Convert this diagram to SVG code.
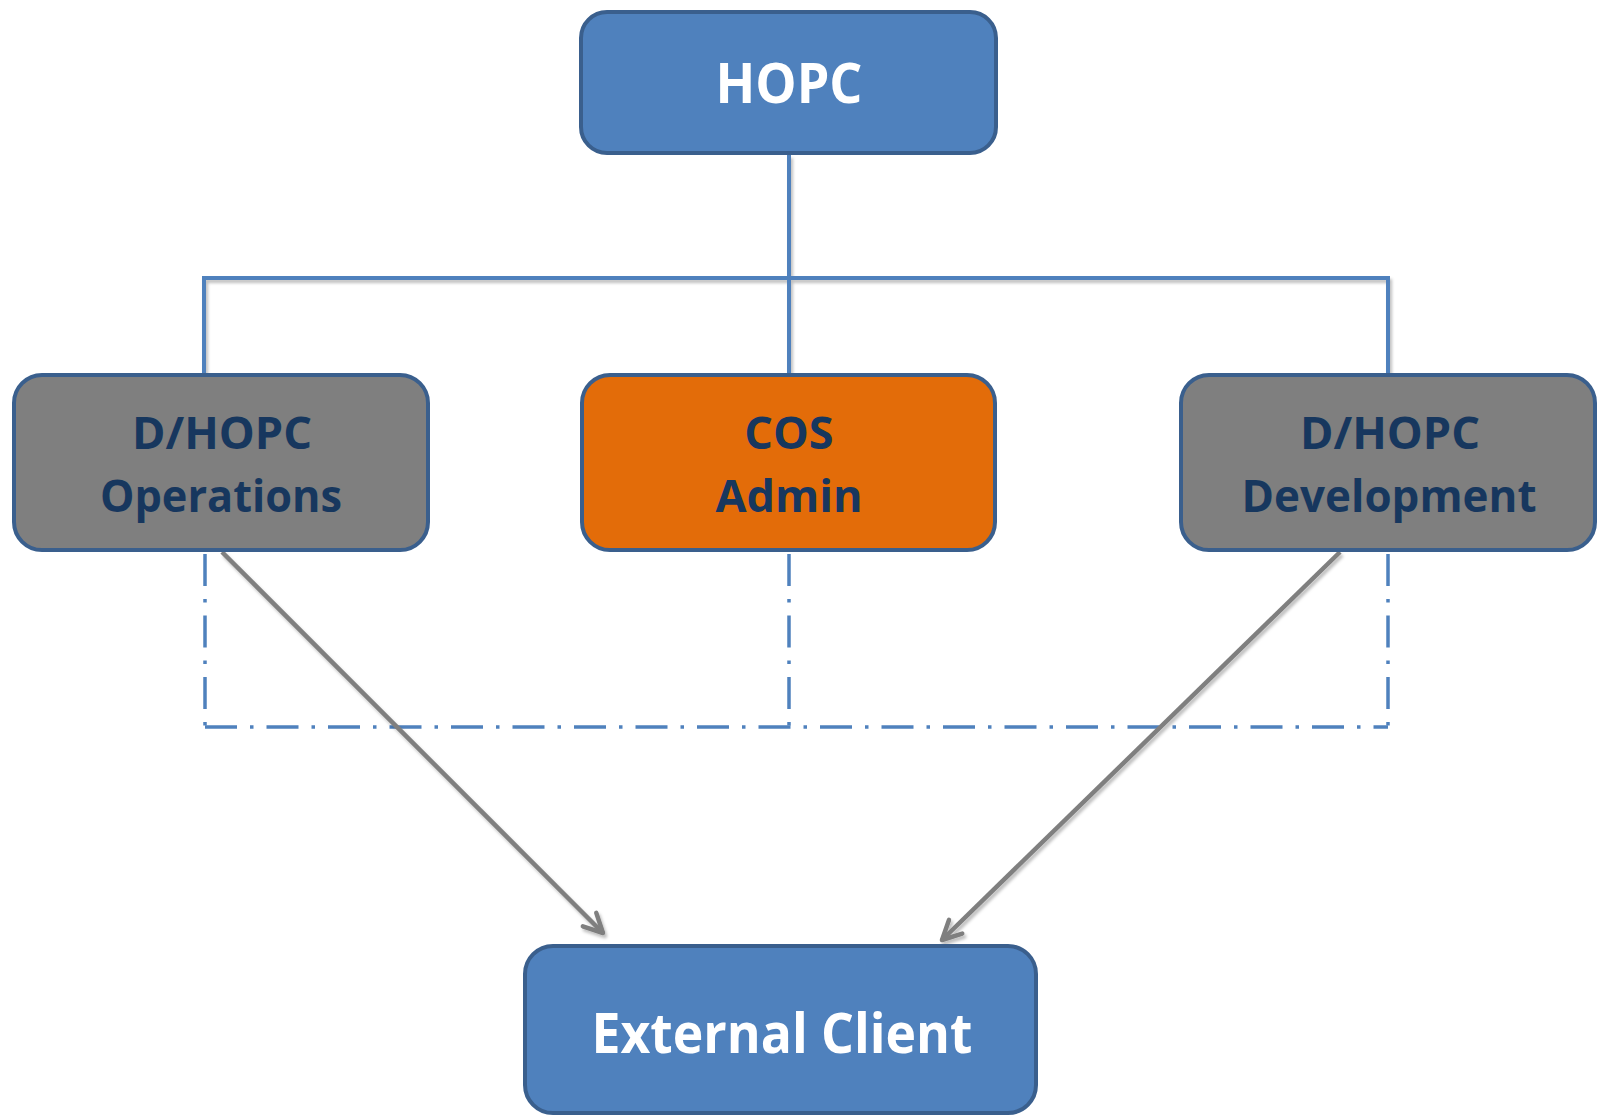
<svg xmlns="http://www.w3.org/2000/svg" width="1604" height="1119" viewBox="0 0 1604 1119">
  <style>
    .box { stroke: #3A5F8D; stroke-width: 4; }
    .blue { fill: #4F81BD; }
    .grey { fill: #7F7F7F; }
    .orange { fill: #E36C09; }
    .lbl { font-family: "Open Sans", "Liberation Sans", sans-serif; font-weight: bold; text-anchor: middle; }
    .white { fill: #FFFFFF; }
    .navy { fill: #17375E; }
    .tree { fill: none; stroke: #4F81BD; stroke-width: 4; }
    .dd { fill: none; stroke: #4F81BD; stroke-width: 3.5; stroke-dasharray: 32 13 3.5 13; }
    .flow { fill: none; stroke: #7F7F7F; stroke-width: 4.5; }
  </style>
  <defs>
    <filter id="shadow" x="-5%" y="-5%" width="110%" height="110%">
      <feDropShadow dx="2" dy="3" stdDeviation="1.5" flood-color="#000000" flood-opacity="0.25"/>
    </filter>
    <marker id="open-arrow" markerUnits="userSpaceOnUse" markerWidth="30" markerHeight="30" refX="0" refY="0" orient="auto" overflow="visible">
      <path d="M -19 -9.5 L 0 0 L -19 9.5" fill="none" stroke="#7F7F7F" stroke-width="4.5" stroke-linecap="round" stroke-linejoin="round"/>
    </marker>
  </defs>

  <!-- connectors -->
  <g id="connectors">
    <g filter="url(#shadow)">
      <path class="tree" d="M 789 155 L 789 374"/>
      <path class="tree" d="M 204 373 L 204 278 L 1388 278 L 1388 373"/>
    </g>
    <path class="dd" d="M 205 554 L 205 727"/>
    <path class="dd" d="M 789 554 L 789 727"/>
    <path class="dd" d="M 1388 554 L 1388 727"/>
    <path class="dd" d="M 205 727 L 1388 727"/>
    <g filter="url(#shadow)">
      <path class="flow" d="M 222 552 L 603 933" marker-end="url(#open-arrow)"/>
      <path class="flow" d="M 1340 552 L 942 940" marker-end="url(#open-arrow)"/>
    </g>
  </g>

  <!-- nodes -->
  <g id="hopc">
    <rect class="box blue" x="581" y="12" width="415" height="141" rx="26"/>
    <text class="lbl white" x="789" y="103" font-size="56" textLength="147" lengthAdjust="spacingAndGlyphs">HOPC</text>
  </g>
  <g id="dhopc-operations">
    <rect class="box grey" x="14" y="375" width="414" height="175" rx="28"/>
    <text class="lbl navy" x="222" y="449" font-size="45" textLength="180" lengthAdjust="spacingAndGlyphs">D/HOPC</text>
    <text class="lbl navy" x="221" y="512" font-size="45" textLength="242" lengthAdjust="spacingAndGlyphs">Operations</text>
  </g>
  <g id="cos-admin">
    <rect class="box orange" x="582" y="375" width="413" height="175" rx="28"/>
    <text class="lbl navy" x="789" y="449" font-size="45">COS</text>
    <text class="lbl navy" x="789" y="512" font-size="45">Admin</text>
  </g>
  <g id="dhopc-development">
    <rect class="box grey" x="1181" y="375" width="414" height="175" rx="28"/>
    <text class="lbl navy" x="1390" y="449" font-size="45" textLength="180" lengthAdjust="spacingAndGlyphs">D/HOPC</text>
    <text class="lbl navy" x="1389" y="512" font-size="45" textLength="295" lengthAdjust="spacingAndGlyphs">Development</text>
  </g>
  <g id="external-client">
    <rect class="box blue" x="525" y="946" width="511" height="167" rx="28"/>
    <text class="lbl white" x="782" y="1053" font-size="56" textLength="381" lengthAdjust="spacingAndGlyphs">External Client</text>
  </g>
</svg>
